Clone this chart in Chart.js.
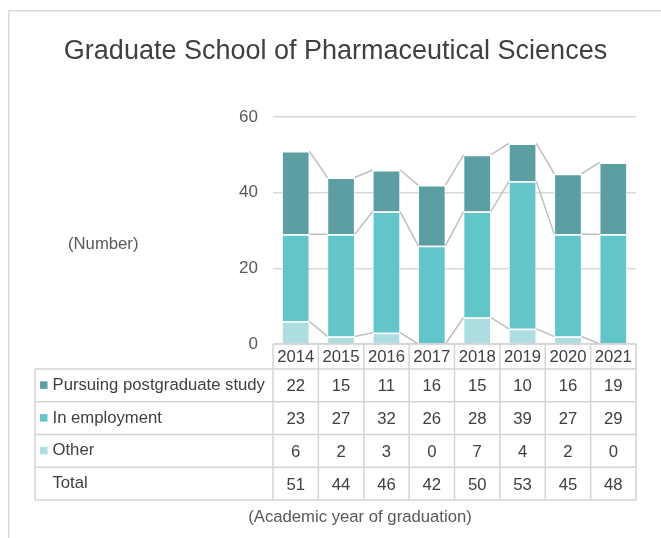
<!DOCTYPE html>
<html>
<head>
<meta charset="utf-8">
<script src="https://cdn.jsdelivr.net/npm/chart.js@4.4.1/dist/chart.umd.min.js"></script>
<style>
  html, body { margin: 0; padding: 0; background: #fff; }
  #wrap { position: relative; width: 661px; height: 538px; }
</style>
</head>
<body>
<div id="wrap"><canvas id="chart" width="661" height="538"></canvas></div>
<script>
const years = ['2014', '2015', '2016', '2017', '2018', '2019', '2020', '2021'];
const postgrad = [22, 15, 11, 16, 15, 10, 16, 19];
const employment = [23, 27, 32, 26, 28, 39, 27, 29];
const other = [6, 2, 3, 0, 7, 4, 2, 0];
const totals = [51, 44, 46, 42, 50, 53, 45, 48];
const yTicks = [0, 20, 40, 60];

const FONT = '"Liberation Sans", Arial, sans-serif';
const colPostgrad = '#5b9fa3';
const colEmploy = '#62c5ca';
const colOther = '#addde1';
const lineGray = '#d4d4d4';

// filas de la tabla (de arriba hacia abajo)
const tableRows = [
    { label: 'Pursuing postgraduate study', color: colPostgrad, values: postgrad },
    { label: 'In employment', color: colEmploy, values: employment },
    { label: 'Other', color: colOther, values: other },
    { label: 'Total', color: null, values: totals }
];

// líneas de serie entre barras + tabla + textos
const extras = {
    id: 'extras',
    beforeDatasetsDraw(chart) {
        const ctx = chart.ctx;
        ctx.save();
        ctx.strokeStyle = '#bfbfbf';
        ctx.lineWidth = 1.5;
        chart.data.datasets.forEach((ds, d) => {
            const meta = chart.getDatasetMeta(d);
            for (let i = 0; i < meta.data.length - 1; i++) {
                const a = meta.data[i], b = meta.data[i + 1];
                ctx.beginPath();
                ctx.moveTo(a.x + a.width / 2, a.y);
                ctx.lineTo(b.x - b.width / 2, b.y);
                ctx.stroke();
            }
        });
        ctx.restore();
    },
    afterDraw(chart) {
        const ctx = chart.ctx;
        const area = chart.chartArea;
        const x = chart.scales.x;
        const y = chart.scales.y;
        const n = years.length;
        const colW = (area.right - area.left) / n;
        const top = y.getPixelForValue(0);
        const headBottom = top + 25;
        const rowH = 32.75;
        const tableLeft = 35;
        const tableBottom = headBottom + rowH * tableRows.length;

        ctx.save();

        // marco
        ctx.strokeStyle = '#d9d9d9';
        ctx.lineWidth = 1.5;
        ctx.beginPath();
        ctx.moveTo(8.75, 538);
        ctx.lineTo(8.75, 10.75);
        ctx.lineTo(661, 10.75);
        ctx.stroke();

        // título
        ctx.fillStyle = '#404040';
        ctx.font = '27px ' + FONT;
        ctx.textAlign = 'center';
        ctx.textBaseline = 'alphabetic';
        ctx.fillText('Graduate School of Pharmaceutical Sciences', 335.5, 59);

        ctx.fillStyle = '#595959';
        ctx.font = '16.7px ' + FONT;
        ctx.textAlign = 'left';
        ctx.textBaseline = 'middle';
        ctx.fillText('(Number)', 68, 244);

        ctx.textAlign = 'center';
        ctx.fillText('(Academic year of graduation)', 360, 517);

        // tabla
        ctx.strokeStyle = lineGray;
        ctx.lineWidth = 1.5;
        ctx.beginPath();
        ctx.moveTo(area.left, top);
        ctx.lineTo(area.right, top);
        for (let r = 0; r <= tableRows.length; r++) {
            const yy = headBottom + r * rowH;
            ctx.moveTo(tableLeft, yy);
            ctx.lineTo(area.right, yy);
        }
        for (let c = 0; c <= n; c++) {
            const xx = area.left + c * colW;
            ctx.moveTo(xx, top);
            ctx.lineTo(xx, tableBottom);
        }
        ctx.moveTo(tableLeft, headBottom);
        ctx.lineTo(tableLeft, tableBottom);
        ctx.stroke();

        ctx.fillStyle = '#404040';
        ctx.font = '16.7px ' + FONT;
        ctx.textAlign = 'center';
        ctx.textBaseline = 'middle';
        years.forEach((yr, i) => {
            ctx.fillText(yr, x.getPixelForValue(i), top + 13.5);
        });

        tableRows.forEach((row, r) => {
            const cy = headBottom + r * rowH + rowH / 2;
            if (row.color) {
                ctx.fillStyle = row.color;
                ctx.fillRect(40, cy - 4, 7.5, 7.5);
            }
            ctx.fillStyle = '#404040';
            ctx.textAlign = 'left';
            ctx.fillText(row.label, 52.5, cy);
            ctx.textAlign = 'center';
            row.values.forEach((v, i) => {
                ctx.fillText(String(v), x.getPixelForValue(i), cy + 1.5);
            });
        });

        ctx.restore();
    }
};

const ctx = document.getElementById('chart').getContext('2d');
const chart = new Chart(ctx, {
    type: 'bar',
    data: {
        labels: years,
        datasets: [
            { label: 'Other', data: other, backgroundColor: colOther },
            { label: 'In employment', data: employment, backgroundColor: colEmploy },
            { label: 'Pursuing postgraduate study', data: postgrad, backgroundColor: colPostgrad }
        ]
    },
    options: {
        responsive: false,
        animation: false,
        devicePixelRatio: 1,
        layout: { padding: { left: 0, right: 25, top: 117, bottom: 194 } },
        datasets: {
            bar: {
                categoryPercentage: 1,
                barPercentage: 0.6,
                borderColor: '#ffffff',
                borderWidth: { top: 1.5, left: 0.75, right: 0.75, bottom: 0 },
                borderSkipped: false
            }
        },
        plugins: {
            legend: { display: false },
            tooltip: { enabled: false },
            title: { display: false }
        },
        scales: {
            x: {
                stacked: true,
                display: false
            },
            y: {
                stacked: true,
                min: 0,
                max: 60,
                afterBuildTicks(scale) {
                    scale.ticks = yTicks.map(v => ({ value: v }));
                },
                afterFit(scale) {
                    scale.width = 273;
                },
                border: { display: false },
                grid: {
                    color: '#d9d9d9',
                    lineWidth: 1.5,
                    drawTicks: false
                },
                ticks: {
                    padding: 15,
                    color: '#595959',
                    font: { family: FONT, size: 17 }
                }
            }
        }
    },
    plugins: [extras]
});
</script>
</body>
</html>
